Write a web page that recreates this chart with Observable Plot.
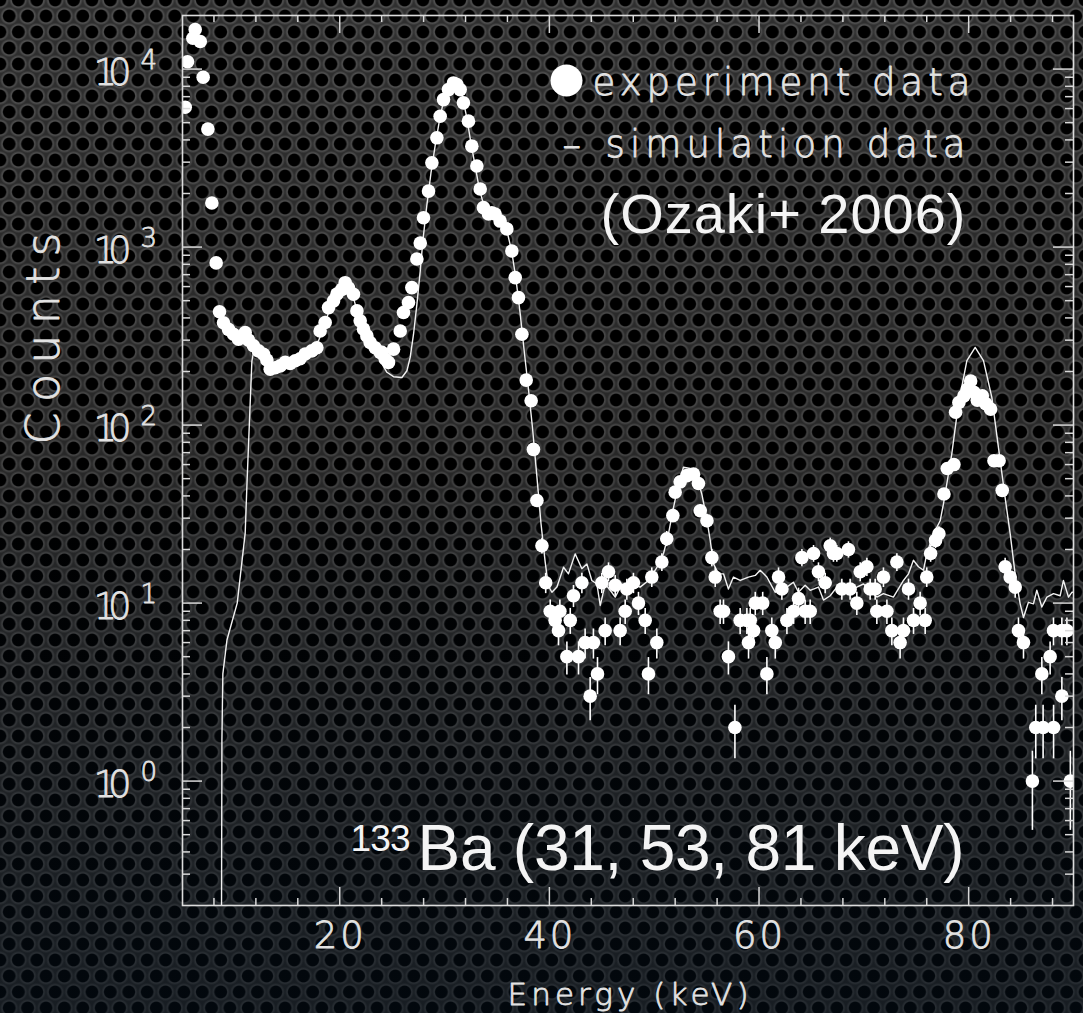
<!DOCTYPE html>
<html><head><meta charset="utf-8">
<script src="https://cdn.jsdelivr.net/npm/d3@7"></script>
<script src="https://cdn.jsdelivr.net/npm/@observablehq/plot@0.6"></script>
<style>
html,body{margin:0;padding:0;width:1083px;height:1013px;overflow:hidden;}
body{background:
 linear-gradient(to bottom, rgba(0,0,0,0) 0%, rgba(0,0,0,0.15) 45%, rgba(4,14,24,0.55) 100%),
 radial-gradient(circle at center, #000 0, #000 5.8px, #555 7px, rgba(60,60,60,0) 9.2px) 0 0/18.4px 32px,
 radial-gradient(circle at center, #000 0, #000 5.8px, #555 7px, rgba(60,60,60,0) 9.2px) 9.2px 16px/18.4px 32px,
 #2f2f2f;}
#chart svg{display:block;}
</style></head>
<body><div id="chart"></div>
<script>
// ---- data ----
const expE = [5.26,5.48,5.99,6.21,6.69,6.97,7.42,7.80,8.21,8.53,8.91,9.39,9.87,10.34,10.98,11.30,11.77,12.25,12.73,13.05,13.37,13.84,14.32,14.80,15.27,15.75,16.22,16.70,17.34,17.82,18.13,18.61,18.93,19.41,19.73,20.20,20.52,20.84,21.31,21.64,21.95,22.27,22.59,22.90,23.38,23.86,24.02,24.34,24.65,25.13,25.77,26.08,26.56,26.88,27.36,27.68,27.99,28.47,28.79,29.27,29.58,29.90,30.37,30.85,31.17,31.49,31.80,32.28,32.60,33.08,33.40,33.71,34.19,34.50,34.82,35.30,35.94,36.42,36.74,37.05,37.38,37.79,38.26,38.48,38.81,39.29,39.65,
40.08,40.55,40.87,41.00,41.67,41.99,42.30,42.78,43.10,43.41,43.89,44.20,44.59,45.00,45.32,45.64,46.28,46.75,47.23,47.39,48.02,48.50,49.14,49.45,49.77,50.25,50.73,51.20,51.78,52.00,52.48,53.12,53.75,54.22,54.39,55.03,55.50,55.82,56.29,56.61,57.08,57.70,58.20,58.84,59.00,59.16,59.48,59.64,60.35,60.75,61.22,61.55,61.86,62.18,62.66,63.30,63.77,64.09,64.40,64.88,65.20,65.67,66.31,66.79,67.10,67.42,67.90,68.53,68.69,69.33,69.65,70.29,70.60,71.08,71.24,71.87,72.20,72.67,73.15,73.46,73.78,74.26,74.74,75.37,75.85,76.00,76.37,76.84,77.16,77.64,77.96,78.59,78.75,79.07,79.55,79.87,80.19,80.50,80.82,81.30,81.62,82.09,82.41,82.90,83.20,83.48,83.96,84.44,84.75,85.23,86.08,86.40,86.98,87.10,87.77,88.09,88.10,88.89,88.89,89.37,89.70];
const expC = [6100,11000,14900,16700,14300,9000,4600,1770,815,433,376,345,324,304,331,300,279,261,250,232,206,210,215,225,222,230,236,251,261,272,338,377,457,499,544,579,631,590,543,438,385,346,317,291,272,256,256,235,225,267,338,429,488,592,857,1053,1462,2063,2974,4110,5435,6740,7670,8360,8190,7670,6460,5100,3690,2855,2120,1665,1534,1560,1534,1400,1265,951,674,520,324,179,137,73,37.7,21,13,
9,8,7,9,5,8,11,5,13,6,3,6,4,13,7,15,12.6,7,9,12,13,10,8,4,14,6,17,23,31,42,48,52,53,47,33,29,18,14,9,9,5,2,8,8,6,8,7,10,10,4,7,6,14,12,8,9,10.6,18,9,9,19,15,13,21,19,19,12,20,12,10,15,16,12,12,9,14,9,7,17,6,7,12,8,10,8,14,19,22.5,24.5,41,57,60,118,134,146,159,177,153,138,146,132,123,63,63,43,16,14,12.3,7,6,1,2,4,2,5,7,2,3,7,7,1];

const simE = [8.70,8.76,8.85,9.24,10.22,10.98,11.14,11.39,11.62,11.77,12.5,13.0,13.5,14.0,14.5,15.0,15.5,16.0,16.5,17.0,17.5,18.0,18.5,19.0,19.5,20.0,20.5,20.9,21.3,21.7,22.1,22.5,23.0,23.4,23.86,24.5,25.13,25.93,26.41,26.72,27.04,27.36,27.68,27.93,28.3,28.7,29.1,29.5,29.9,30.3,30.7,31.0,31.3,31.7,32.1,32.5,32.9,33.3,33.7,34.1,34.5,35.0,35.5,36.0,36.4,36.8,37.2,37.6,38.0,38.4,38.8,39.2,39.6,39.9,
40.24,40.72,41.35,41.82,42.46,43.1,43.58,44.05,44.53,44.85,45.33,45.8,46.28,46.92,47.39,48.0,48.66,49.45,50.25,50.89,51.36,51.84,52.31,52.79,53.43,54.06,54.54,55.0,55.35,55.66,56.13,56.61,57.08,57.56,58.2,58.99,59.64,60.11,60.75,61.54,62.01,62.65,63.28,63.76,64.4,64.88,65.67,66.15,66.79,67.42,68.05,68.69,69.33,69.96,70.6,71.24,71.87,72.82,73.78,74.26,74.73,75.21,75.69,76.01,76.64,77.28,77.59,78.39,79.02,79.83,80.62,81.41,82.21,82.84,83.48,83.96,84.43,84.91,85.23,85.7,86.18,86.5,86.98,87.46,88.09,88.73,89.04,89.52,89.84,90.0];
const simC = [0.05,1.7,4.0,6.2,10,24.7,45,106,229,255,240,218,208,210,215,220,226,233,244,255,268,300,360,440,510,560,610,590,520,430,360,315,280,255,230,198,187,185,202,240,324,477,734,1082,1700,2600,3700,5100,6600,7900,8700,8900,8500,7000,5400,3900,2900,2150,1750,1560,1520,1480,1380,1200,950,670,430,260,160,95,52,28,17,12.5,
11.5,12.3,15.9,14.6,18.9,15.6,16.6,13.4,12.8,9.7,12.8,11.8,10.8,12.8,12.3,12.8,12.3,13.4,15.8,19,24.5,34.4,46.6,58,57,51,41,30,22.4,16.6,14.6,14.6,12,14,13.4,14,14.3,15.3,14,11.5,12.8,12.3,13.1,11.5,12.6,11.8,12.3,10.4,11,12.3,11.8,11.8,12.3,12.8,11.8,10.8,11.3,10.8,13.4,14.6,17.4,16,15.3,19,24.5,29,36,69,131,230,273,230,143,75,39,24.5,14.6,9.9,8.3,10.1,9.9,11.8,9.5,10.8,11.3,11,13.4,10.8,11.5,11.5];

const xMajor = [20, 40, 60, 80];
const xMinor = [8,12,16,24,28,32,36,44,48,52,56,64,68,72,76,84,88];
const yMajor = [1, 10, 100, 1000, 10000];
const yExpo = ["0", "1", "2", "3", "4"];
const yMinor = [0.3,0.4,0.5,0.6,0.7,0.8,0.9,2,3,4,5,6,7,8,9,20,30,40,50,60,70,80,90,200,300,400,500,600,700,800,900,2000,3000,4000,5000,6000,7000,8000,9000];
const legendText = ["experiment data", "simulation data"];
const refText = "(Ozaki+ 2006)";
const sourceMass = "133";
const sourceText = "Ba (31, 53, 81 keV)";
const xLabel = "Energy (keV)";
const yLabel = "Counts";
const errScale = 4.5; // counts were rescaled: error = sqrt(N / errScale)

const exp = expE.map((e, i) => ({e, c: expC[i]}));
const sim = simE.map((e, i) => ({e, c: simC[i]}));

// ---- layout ----
const W = 1083, H = 1013, mL = 182, mR = 10, mT = 15, mB = 108;
const fw = W - mL - mR, fh = H - mT - mB;
const ink = "#e2e2e2";
const hershey = "'DejaVu Sans', 'Noto Sans', sans-serif";
const helv = "'Liberation Sans', Arial, Helvetica, sans-serif";
const tickStroke = {stroke: "#d8d8d8", strokeWidth: 1.5};
const hText = {fontFamily: hershey, fontWeight: 200, fill: ink, stroke: ink, strokeWidth: 0.8, lineAnchor: "middle"};
const sText = {fontFamily: helv, fill: "#f4f4f4", lineAnchor: "middle", textAnchor: "start"};

const svg = Plot.plot({
  width: W, height: H,
  marginLeft: mL, marginRight: mR, marginTop: mT, marginBottom: mB,
  x: {domain: [5, 90], axis: null},
  y: {type: "log", domain: [0.2, 2e4], axis: null},
  style: {background: "transparent", color: ink, overflow: "visible"},
  marks: [
    // data
    Plot.line(sim, {x: "e", y: "c", stroke: "#f2f2f2", strokeWidth: 1.4, clip: true}),
    Plot.ruleX(exp, {x: "e", y1: d => d.c - Math.sqrt(d.c / errScale), y2: d => d.c + Math.sqrt(d.c / errScale), stroke: "#ffffff", strokeWidth: 1.6, clip: true}),
    Plot.dot(exp, {x: "e", y: "c", r: 6.8, fill: "#ffffff", clip: true}),
    // frame & ticks (inward, mirrored)
    Plot.frame({stroke: "#dcdcdc", strokeWidth: 1.6}),
    Plot.ruleX(xMajor, {insetTop: fh - 18, ...tickStroke}),
    Plot.ruleX(xMinor, {insetTop: fh - 7, ...tickStroke}),
    Plot.ruleX(xMajor, {insetBottom: fh - 18, ...tickStroke}),
    Plot.ruleX(xMinor, {insetBottom: fh - 7, ...tickStroke}),
    Plot.ruleY(yMajor, {insetRight: fw - 20, ...tickStroke}),
    Plot.ruleY(yMinor, {insetRight: fw - 8, ...tickStroke}),
    Plot.ruleY(yMajor, {insetLeft: fw - 20, ...tickStroke}),
    Plot.ruleY(yMinor, {insetLeft: fw - 8, ...tickStroke}),
    // tick labels
    Plot.text(xMajor, {x: d => d, frameAnchor: "bottom", dy: 31, dx: -1, text: d => String(d), fontSize: 37, ...hText}),
    Plot.text(yMajor, {y: d => d, frameAnchor: "left", dx: -51, dy: 4, text: () => "10", textAnchor: "end", fontSize: 37, ...hText}),
    Plot.text(yMajor, {y: d => d, frameAnchor: "left", dx: -42, dy: -8, text: (d, i) => yExpo[i], textAnchor: "start", fontSize: 26, ...hText}),
    // axis labels
    Plot.text([yLabel], {frameAnchor: "left", dx: -138, dy: -16, rotate: -90, text: d => d, fontSize: 46, ...hText}),
    Plot.text([xLabel], {frameAnchor: "bottom", dy: 90, text: d => d, fontSize: 31, ...hText}),
    // legend
    Plot.dot([legendText[0]], {frameAnchor: "top-left", dx: 384, dy: 65, r: 16, fill: "#ffffff"}),
    Plot.text([legendText[0]], {frameAnchor: "top-left", dx: 410, dy: 68, text: d => d, fontSize: 37, ...hText, textAnchor: "start"}),
    Plot.text(["\u2013"], {frameAnchor: "top-left", dx: 380, dy: 131, text: d => d, fontSize: 37, ...hText}),
    Plot.text([legendText[1]], {frameAnchor: "top-left", dx: 423, dy: 130, text: d => d, fontSize: 37, ...hText, textAnchor: "start"}),
    Plot.text([refText], {frameAnchor: "top-left", dx: 418, dy: 200, text: d => d, fontSize: 56, ...sText}),
    Plot.text([sourceMass], {frameAnchor: "top-left", dx: 168, dy: 824, text: d => d, fontSize: 37, ...sText}),
    Plot.text([sourceText], {frameAnchor: "top-left", dx: 235, dy: 834.5, text: d => d, fontSize: 64, ...sText})
  ]
});

// stretch texts to the widths measured on the reference
function fit(content, len) {
  d3.select(svg).selectAll("text")
    .filter(function () { return this.textContent === content; })
    .attr("textLength", len).attr("lengthAdjust", "spacing");
}
xMajor.forEach(v => fit(String(v), 50));
fit("10", 38);
fit(yLabel, 212);
fit(xLabel, 241);
fit(legendText[0], 378);
fit(legendText[1], 360);
fit(refText, 365);
fit(sourceMass, 60);
fit(sourceText, 547);

document.getElementById("chart").appendChild(svg);
</script></body></html>
